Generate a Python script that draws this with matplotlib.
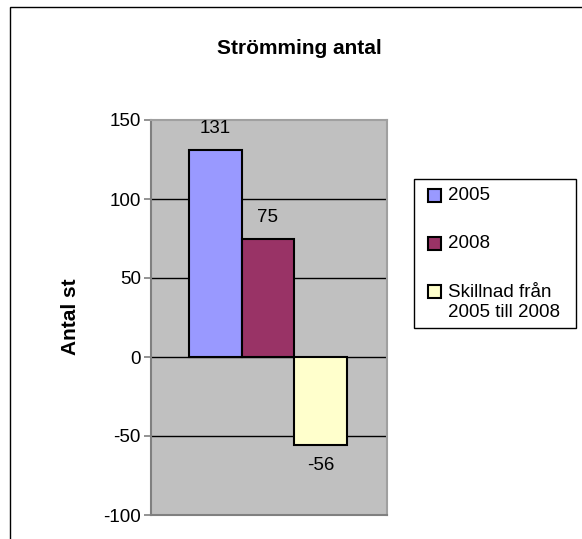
import matplotlib.pyplot as plt
from matplotlib.patches import Rectangle

plt.rcParams['font.family'] = ['Liberation Sans', 'DejaVu Sans']

series = ['2005', '2008', 'Skillnad från\n2005 till 2008']
values = [131, 75, -56]
colors = ['#9999FF', '#993366', '#FFFFCC']
yticks = [-100, -50, 0, 50, 100, 150]

W, H = 582, 539
fig = plt.figure(figsize=(W / 100, H / 100), dpi=100)
ax = fig.add_axes([150.5 / W, 1 - 515 / H, (387 - 150.5) / W, (515 - 120) / H])
ax.set_facecolor('#C0C0C0')

xpos = [-1, 0, 1]
ax.bar(xpos, values, width=1.0, color=colors, edgecolor='black', linewidth=1.5, zorder=3)
for x, v in zip(xpos, values):
    off = 12 if v >= 0 else -17.3
    ax.annotate(str(v), (x, v), xytext=(0, off), textcoords='offset points',
                ha='center', va='baseline', fontsize=13.5, zorder=4)

ax.set_xlim(-2.23, 2.26)
ax.set_ylim(-100, 150)
ax.set_yticks(yticks)
ax.set_yticklabels([str(t) for t in yticks], fontsize=13.5)
ax.set_xticks([])
for t in [-50, 50, 100]:
    ax.axhline(t, color='black', linewidth=1, zorder=1)
ax.axhline(0, color='black', linewidth=1, zorder=2)
for s in ax.spines.values():
    s.set_color('#808080')
    s.set_linewidth(1.5)
ax.spines['top'].set_color('#A0A0A0')
ax.spines['right'].set_color('#A0A0A0')
ax.tick_params(axis='y', direction='out', length=5, color='#808080', width=1.2, pad=2)

fig.text(71 / W, 1 - 317 / H, 'Antal st', rotation=90, ha='center', va='center',
         fontsize=15, fontweight='bold')
fig.text(299.5 / W, 1 - 54 / H, 'Strömming antal', ha='center', va='baseline',
         fontsize=15, fontweight='bold')

# outer chart frame
fig.patches.append(Rectangle((10.5 / W, -0.1), 1.2, 1 - 7.5 / H + 0.1, transform=fig.transFigure,
                             fill=False, edgecolor='black', linewidth=1))

# legend box
fig.patches.append(Rectangle((414 / W, 1 - 328 / H), (576 - 414) / W, (328 - 179) / H,
                             transform=fig.transFigure, facecolor='white',
                             edgecolor='black', linewidth=1))
marker_y = [195, 243, 291]
base_y = [200, 248.3, 297.3]
for lab, c, my, by in zip(series, colors, marker_y, base_y):
    fig.patches.append(Rectangle((427.5 / W, 1 - (my + 6.5) / H), 13 / W, 13 / H,
                                 transform=fig.transFigure, facecolor=c,
                                 edgecolor='black', linewidth=1.5))
    lines = lab.split('\n')
    for i, line in enumerate(lines):
        fig.text(448 / W, 1 - (by + i * 19.4) / H, line, ha='left', va='baseline',
                 fontsize=13.5)

fig.savefig('out.png', dpi=100)
